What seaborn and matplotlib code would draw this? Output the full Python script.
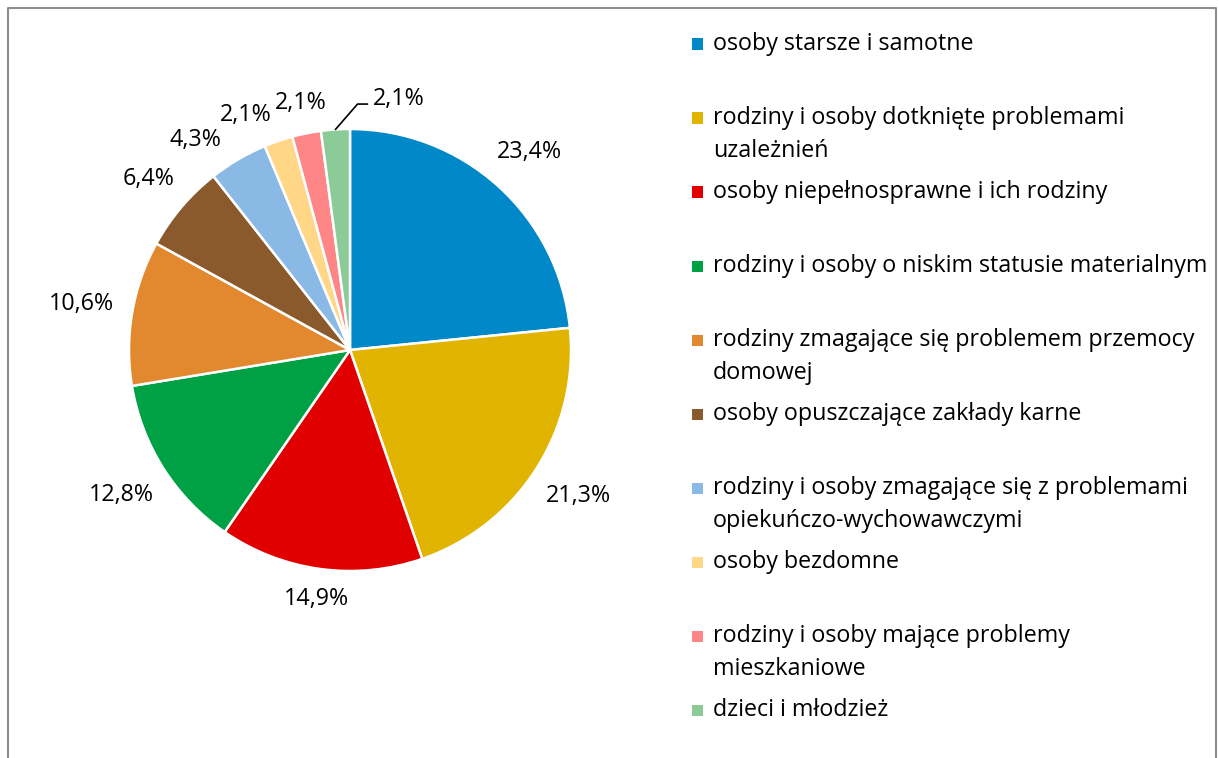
import numpy as np
import matplotlib.pyplot as plt
import seaborn as sns
from matplotlib.lines import Line2D
from matplotlib.patches import Rectangle

sns.set_style('white')
plt.rcParams['font.family'] = ['Open Sans', 'DejaVu Sans']
plt.rcParams['text.color'] = 'black'

# --- data ---
categories = [
    'osoby starsze i samotne',
    'rodziny i osoby dotknięte problemami\nuzależnień',
    'osoby niepełnosprawne i ich rodziny',
    'rodziny i osoby o niskim statusie materialnym',
    'rodziny zmagające się problemem przemocy\ndomowej',
    'osoby opuszczające zakłady karne',
    'rodziny i osoby zmagające się z problemami\nopiekuńczo-wychowawczymi',
    'osoby bezdomne',
    'rodziny i osoby mające problemy\nmieszkaniowe',
    'dzieci i młodzież',
]
shares = [23.4, 21.3, 14.9, 12.8, 10.6, 6.4, 4.3, 2.1, 2.1, 2.1]
colors = ['#0088C8', '#E0B400', '#E00000', '#00A045', '#E2882E',
          '#8A5A2C', '#8AB9E6', '#FFD786', '#FF8686', '#8BCB98']

W, H = 1219, 758
fig = plt.figure(figsize=(W / 100, H / 100), dpi=100)
renderer = fig.canvas.get_renderer()

# pick a font size so the longest legend line is ~493 px wide, as in the reference
probe = fig.text(0, 0, 'rodziny i osoby o niskim statusie materialnym', fontsize=15)
fs = 15 * 493 / probe.get_window_extent(renderer).width
probe.remove()

# pie axes: centre (350, 350) px, radius 221 px
R_PX = 221
half = 300
ax = fig.add_axes([(350 - half) / W, (H - 350 - half) / H, 2 * half / W, 2 * half / H])
wedges, _ = ax.pie(shares, colors=colors, startangle=90, counterclock=False,
                   wedgeprops=dict(edgecolor='white', linewidth=1.8))
lim = half / R_PX
ax.set_xlim(-lim, lim)
ax.set_ylim(-lim, lim)
ax.set_aspect('equal')
ax.axis('off')

gap = 18 / R_PX


def place(t, ang):
    c, s = np.cos(ang), np.sin(ang)
    bb = t.get_window_extent(renderer)
    hw, hh = bb.width / 2 / R_PX, bb.height / 2 / R_PX * 0.7
    d = 1 + gap + hw * abs(c) + hh * abs(s)
    t.set_position((d * c, d * s))


labels = []
for i, (w, v) in enumerate(zip(wedges, shares)):
    mid = np.deg2rad((w.theta1 + w.theta2) / 2)
    txt = f'{v:.1f}'.replace('.', ',') + '%'
    if i == len(shares) - 1:
        # last slice: label pulled to the right with a leader line
        x0, y0 = np.cos(mid), np.sin(mid)
        ex, ey = x0 + 0.10, y0 + 0.115
        ax.plot([x0, ex, ex + 0.045], [y0, ey, ey], color='black', lw=1.2)
        ax.text(ex + 0.07, ey + 0.025, txt, ha='left', va='center', fontsize=fs)
        continue
    t = ax.text(0, 0, txt, ha='center', va='center', fontsize=fs)
    place(t, mid)
    labels.append([t, mid])

# push crowded labels apart along the circle (walk back from the small slices)
for k in range(len(labels) - 2, -1, -1):
    t, ang = labels[k]
    nb = labels[k + 1][0].get_window_extent(renderer)
    for _ in range(60):
        if not t.get_window_extent(renderer).overlaps(nb.expanded(1.02, 1.0)):
            break
        ang += np.deg2rad(1.0)
        place(t, ang)
    labels[k][1] = ang

# legend drawn as a column of fixed slots
top_px, step_px, line_px = 44, 74, 33
sq = 11
for i, (lab, col) in enumerate(zip(categories, colors)):
    y = 1 - (top_px + i * step_px) / H
    fig.add_artist(Rectangle(((698 - sq / 2) / W, y - sq / 2 / H), sq / W, sq / H,
                             facecolor=col, edgecolor='none'))
    for j, line in enumerate(lab.split('\n')):
        fig.text(713 / W, y - j * line_px / H, line, ha='left', va='center',
                 fontsize=fs)

# frame (open at the bottom)
frame_c = '#8C8C8C'
l, r, t = 8 / W, 1216 / W, 1 - 8 / H
fig.add_artist(Line2D([l, l, r, r], [0, t, t, 0], color=frame_c, lw=1.5,
                      transform=fig.transFigure))

fig.savefig('out.png', dpi=100, facecolor='white')
